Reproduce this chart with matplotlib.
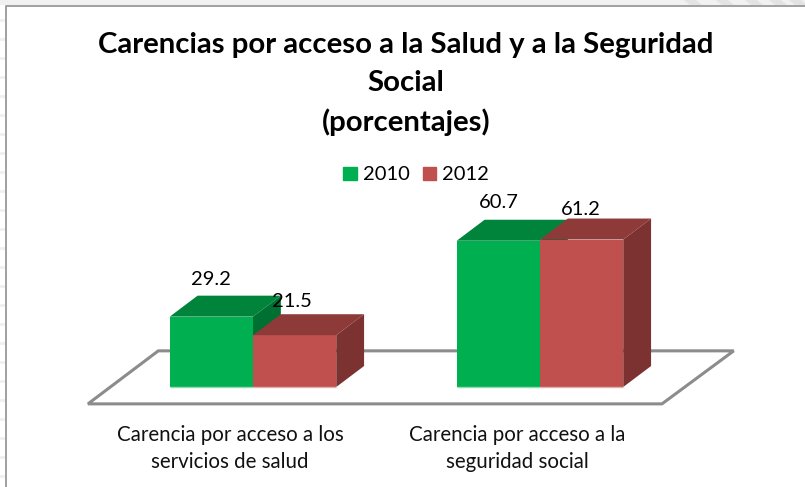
import matplotlib
matplotlib.use("Agg")
import matplotlib.pyplot as plt
from matplotlib.patches import Polygon, Patch, Rectangle
from matplotlib.lines import Line2D

categorias = ["Carencia por acceso a los\nservicios de salud",
              "Carencia por acceso a la\nseguridad social"]
anios = ["2010", "2012"]
valores_2010 = [29.2, 60.7]
valores_2012 = [21.5, 61.2]

titulo = "Carencias por acceso a la Salud y a la Seguridad\nSocial\n(porcentajes)"

plt.rcParams['font.family'] = ['Lato', 'DejaVu Sans']

ANCHO, ALTO = 805, 487
fig = plt.figure(figsize=(ANCHO / 100, ALTO / 100), dpi=100)

# fondo de la pagina alrededor del grafico
fig.add_artist(Rectangle((0, 1 - 5 / ALTO), 1, 5 / ALTO, transform=fig.transFigure,
                         facecolor="#f1f1f1", edgecolor="none"))
for xm in [690, 722, 751, 775, 795]:
    fig.add_artist(Polygon([(xm / ANCHO, 1 - 5 / ALTO), ((xm + 12) / ANCHO, 1 - 5 / ALTO),
                            ((xm + 6) / ANCHO, 1), ((xm - 6) / ANCHO, 1)],
                           transform=fig.transFigure, facecolor="#e3e3e3", edgecolor="none"))
for ym in range(20, ALTO, 19):
    fig.add_artist(Line2D([0, 4.5 / ANCHO], [1 - ym / ALTO, 1 - ym / ALTO],
                          color="#f0f0f0", linewidth=2))

ax = fig.add_axes([0, 0, 1, 1])
ax.patch.set_alpha(0)

# escala: 287 px por categoria, 2.41 px por punto porcentual, base en y=387
ax.set_xlim(-253 / 287, (ANCHO - 253) / 287)
ax.set_ylim(-(ALTO - 387) / 2.41, 387 / 2.41)
ax.axis("off")

ancho_barra = 0.29
dx = 0.097   # profundidad del efecto 3D
dy = 8.7


def barra3d(x, valor, frente, arriba, lado, borde, z):
    ax.bar(x, valor, ancho_barra, align="edge", color=frente, zorder=z)
    der = x + ancho_barra
    ax.add_patch(Polygon([(x, valor), (der, valor), (der + dx, valor + dy), (x + dx, valor + dy)],
                         facecolor=arriba, edgecolor="none", zorder=z))
    ax.add_patch(Polygon([(der, 0), (der + dx, dy), (der + dx, valor + dy), (der, valor)],
                         facecolor=lado, edgecolor="none", zorder=z))
    ax.plot([x, der], [0, 0], color=borde, linewidth=1, solid_capstyle="butt", zorder=z)


# piso del grafico
ax.add_patch(Polygon([(-0.575, -7), (1.425, -7), (1.675, 15), (-0.33, 15)], closed=True,
                     facecolor="white", edgecolor="#8c8c8c", linewidth=2.2,
                     joinstyle="miter", zorder=1))

for i in range(len(categorias)):
    barra3d(i - ancho_barra, valores_2010[i], "#00b050", "#00843c", "#006f32", "#8fdcb0", 2)
    barra3d(i, valores_2012[i], "#c0504d", "#8e3a38", "#7b3230", "#e0aeac", 3)

# etiquetas de datos, con el desplazamiento que tienen en el original
desp_2010 = [(0, 37), (0, 38)]
desp_2012 = [(-3, 34), (-1, 30)]
for i in range(len(categorias)):
    ax.annotate(f"{valores_2010[i]}", (i - ancho_barra / 2, valores_2010[i]),
                xytext=desp_2010[i], textcoords="offset pixels",
                ha="center", va="center", fontsize=14.5, color="black", zorder=5)
    ax.annotate(f"{valores_2012[i]}", (i + ancho_barra / 2, valores_2012[i]),
                xytext=desp_2012[i], textcoords="offset pixels",
                ha="center", va="center", fontsize=14.5, color="black", zorder=5)

for i, cat in enumerate(categorias):
    ax.text(i - 0.08, -15.7, cat, ha="center", va="top", fontsize=14.8, color="#111111",
            linespacing=1.42)

# titulo
fig.text(406 / ANCHO, 1 - 84 / ALTO, titulo, ha="center", va="center", fontsize=21.2,
         fontweight="bold", color="black", linespacing=1.55)

# leyenda
manejadores = [Patch(color="#00b050", label=anios[0]), Patch(color="#c0504d", label=anios[1])]
fig.legend(handles=manejadores, ncol=2, frameon=False, fontsize=14.5,
           loc="center", bbox_to_anchor=(416 / ANCHO, 1 - 175 / ALTO),
           handlelength=0.65, handleheight=0.65, handletextpad=0.3, columnspacing=0.65)

# marco de la pagina
fig.add_artist(Line2D([5.5 / ANCHO, 5.5 / ANCHO, 1], [0, 1 - 5.5 / ALTO, 1 - 5.5 / ALTO],
                      color="#a0a0a0", linewidth=1.4))

fig.savefig("out.png", dpi=100, facecolor="white")
